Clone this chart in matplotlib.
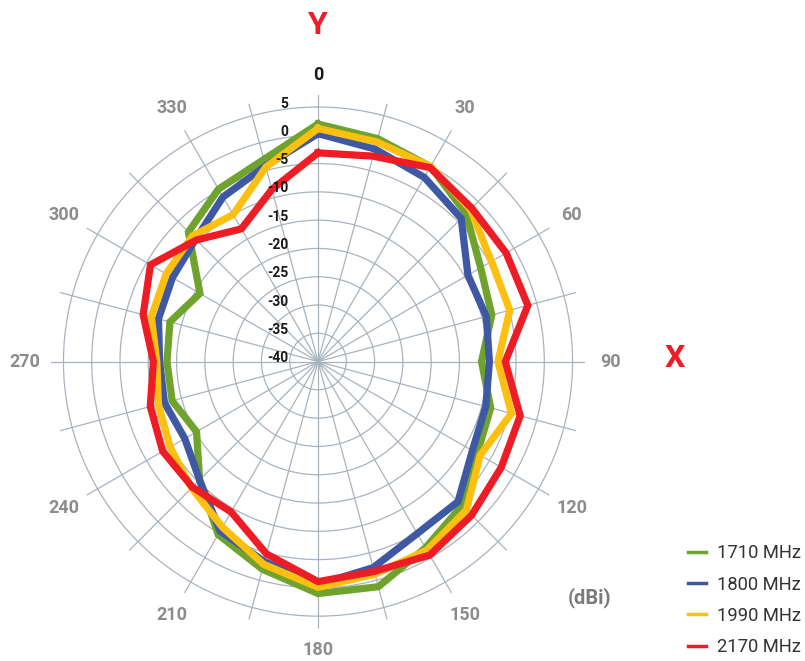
import numpy as np
import matplotlib.pyplot as plt
from matplotlib.lines import Line2D

# angles every 15 degrees, gain in dBi
angles = list(range(0, 360, 15))

gain_1710 = [2.0, 0.8, -0.2, -3.0, -6.8, -8.2, -11.1, -8.4, -7.5, -4.0, -2.0, 1.2,
             1.0, -2.0, -4.7, -10.4, -15.2, -13.3, -13.3, -12.9, -15.9, -7.6, -4.8, -3.0]
gain_1800 = [0.3, -1.1, -2.4, -4.2, -9.4, -9.2, -9.7, -9.3, -8.5, -5.0, -4.9, -2.3,
             -0.6, -3.4, -5.4, -10.4, -12.8, -11.9, -12.0, -10.8, -10.3, -9.4, -6.4, -4.2]
gain_1990 = [1.2, 0.2, -0.2, -1.9, -4.6, -4.9, -8.2, -4.6, -6.9, -2.9, -1.5, -1.1,
             -0.1, -2.9, -6.2, -8.4, -9.8, -10.8, -11.5, -9.5, -9.0, -8.6, -10.0, -4.4]
gain_2170 = [-3.1, -2.4, -0.4, -1.6, -1.6, -1.6, -6.9, -3.0, -2.6, -1.6, -0.5, -1.6,
             -1.1, -4.8, -9.3, -8.6, -8.3, -9.3, -10.9, -8.0, -5.8, -9.6, -12.9, -8.5]

series = [("1710 MHz", gain_1710, "#6fa32e"),
          ("1800 MHz", gain_1800, "#3f58a3"),
          ("1990 MHz", gain_1990, "#fdc010"),
          ("2170 MHz", gain_2170, "#ee1c25")]

ring_values = list(range(-40, 6, 5))
angle_labels = list(range(0, 360, 30))

plt.rcParams['font.family'] = ['Roboto', 'DejaVu Sans']

fig = plt.figure(figsize=(8.05, 6.61), dpi=100)
ax = fig.add_axes([0.06335, 0.049, 0.6634, 0.8079], projection='polar')
ax.set_theta_zero_location('N')
ax.set_theta_direction(-1)

theta = np.deg2rad(angles + [angles[0]])
for name, vals, col in series:
    ax.plot(theta, vals + [vals[0]], color=col, lw=5.2, label=name,
            solid_joinstyle='miter', zorder=3)

ax.set_ylim(-40, 7.2)
ax.set_yticks(ring_values)
ax.set_yticklabels([])
ax.set_xticks(np.deg2rad(angles))
ax.set_xticklabels([])
ax.grid(True, color='#a9b3bd', lw=0.9)
ax.spines['polar'].set_visible(False)

# radial labels along the 0 line
for v in ring_values:
    ax.annotate(str(v), xy=(0, v), xytext=(-30, 3.5), textcoords='offset pixels',
                ha='right', va='center', fontsize=10, fontweight='bold',
                color='#1a1a1a', annotation_clip=False)

# angle labels
for a in angle_labels:
    r = {0: 10.6, 180: 10.9}.get(a, 11.8)
    ax.text(np.deg2rad(a), r, str(a), ha='center', va='center', fontsize=13,
            fontweight='bold', color='#1a1a1a' if a == 0 else '#8c8c8c', clip_on=False)

fig.text(318 / 805, 1 - 25 / 661, "Y", color='#ee1c25', fontsize=23,
         fontweight='bold', ha='center', va='center')
fig.text(675 / 805, 1 - 358 / 661, "X", color='#ee1c25', fontsize=23,
         fontweight='bold', ha='center', va='center')
fig.text(590 / 805, 1 - 598 / 661, "(dBi)", color='#7a7a7a', fontsize=14.5,
         fontweight='bold', ha='center', va='center')

handles = [Line2D([], [], color=col, lw=2.5) for _, _, col in series]
leg = fig.legend(handles, [s[0] for s in series], loc='upper left',
                 bbox_to_anchor=(681 / 805, 1 - 537 / 661), frameon=False,
                 fontsize=13.2, handlelength=0.98, handletextpad=0.6,
                 labelspacing=0.72, borderaxespad=0)
for t in leg.get_texts():
    t.set_color('#333333')

plt.savefig('out.png', dpi=100)
